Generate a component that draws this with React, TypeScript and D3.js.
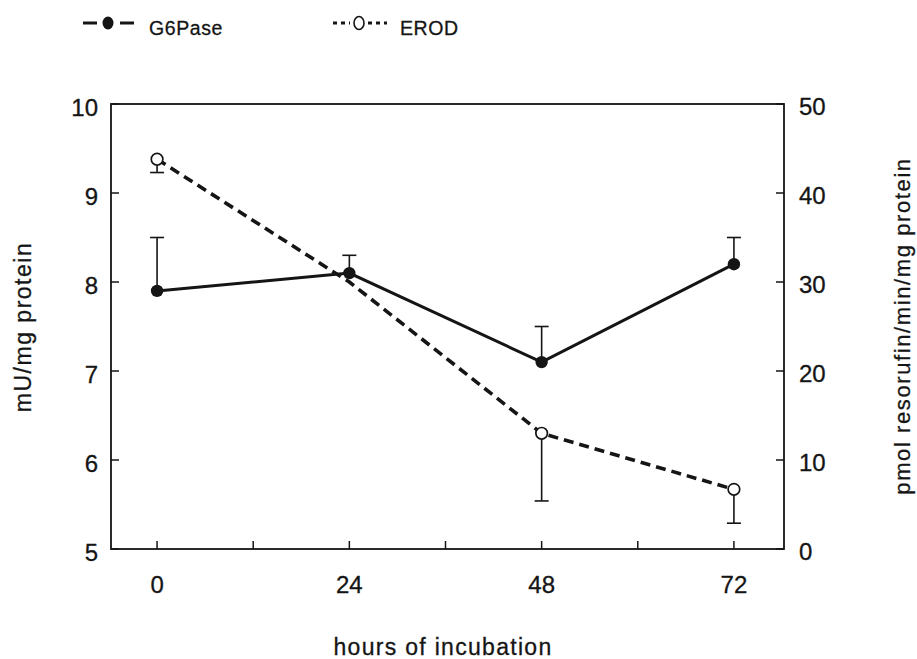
import React from 'react';
import * as d3 from 'd3';

// hours of incubation
const hours = [0, 24, 48, 72];
const xTicks = [0, 12, 24, 36, 48, 60, 72];
const xTickLabels = ['0', '24', '48', '72'];

// G6Pase, mU/mg protein (left axis), error bar goes up
const g6pase = [7.9, 8.1, 7.1, 8.2];
const g6paseErr = [0.6, 0.2, 0.4, 0.3];

// EROD, pmol resorufin/min/mg protein (right axis), error bar goes down
const erod = [43.8, 30.0, 13.0, 6.7];
const erodErr = [1.5, 0, 7.6, 3.8];

const leftTicks = [5, 6, 7, 8, 9, 10];
const rightTicks = [0, 10, 20, 30, 40, 50];

const W = 917;
const H = 659;
const margin = { top: 104, right: 133, bottom: 110, left: 111 };
const font = 'Liberation Sans, Arial, sans-serif';
const ink = '#151515';

const App: React.FC = () => {
  const x = d3.scaleLinear().domain([-5.75, 78.25]).range([margin.left, W - margin.right]);
  const yL = d3.scaleLinear().domain([5, 10]).range([H - margin.bottom, margin.top]);
  const yR = d3.scaleLinear().domain([0, 50]).range([H - margin.bottom, margin.top]);

  const x0 = margin.left;
  const x1 = W - margin.right;
  const y0 = H - margin.bottom;
  const y1 = margin.top;

  const lineL = d3.line<number>().x((_, i) => x(hours[i])).y(d => yL(d));
  const lineR = d3.line<number>().x((_, i) => x(hours[i])).y(d => yR(d));

  const tk = 8;
  const capW = 7;
  const txt = { fontFamily: font, fill: ink, stroke: ink, strokeWidth: 0.3 };

  return (
    <svg width={W} height={H} style={{ position: 'absolute', left: 0, top: 0, background: '#fff' }}>
      {/* frame */}
      <rect x={x0} y={y1} width={x1 - x0} height={y0 - y1} fill="none" stroke={ink} strokeWidth={1.8} />

      {/* bottom ticks */}
      {xTicks.map(t => (
        <line key={'xt' + t} x1={x(t)} x2={x(t)} y1={y0} y2={y0 - tk} stroke={ink} strokeWidth={1.5} />
      ))}
      {hours.map((h, i) => (
        <text key={'xl' + h} x={x(h)} y={y0 + 44} textAnchor="middle" fontSize={24} {...txt}>
          {xTickLabels[i]}
        </text>
      ))}

      {/* left ticks */}
      {leftTicks.map(t => (
        <g key={'lt' + t}>
          <line x1={x0} x2={x0 + tk} y1={yL(t)} y2={yL(t)} stroke={ink} strokeWidth={1.5} />
          <text x={x0 - 13} y={yL(t) + 11.5} textAnchor="end" fontSize={24} {...txt}>{t}</text>
        </g>
      ))}

      {/* right ticks */}
      {rightTicks.map(t => (
        <g key={'rt' + t}>
          <line x1={x1} x2={x1 - tk} y1={yR(t)} y2={yR(t)} stroke={ink} strokeWidth={1.5} />
          <text x={x1 + 15} y={yR(t) + 11} textAnchor="start" fontSize={24} {...txt}>{t}</text>
        </g>
      ))}

      {/* axis titles */}
      <text transform={`translate(31,327) rotate(-90)`} textAnchor="middle" fontSize={23} letterSpacing={1.5} {...txt}>
        mU/mg protein
      </text>
      <text transform={`translate(910,326) rotate(-90)`} textAnchor="middle" fontSize={22} letterSpacing={1.6} {...txt}>
        pmol resorufin/min/mg protein
      </text>
      <text x={443} y={655} textAnchor="middle" fontSize={23} letterSpacing={1.3} {...txt}>
        hours of incubation
      </text>

      {/* EROD error bars (down) */}
      {erod.map((v, i) => erodErr[i] > 0 && (
        <g key={'ee' + i} stroke={ink} strokeWidth={1.6}>
          <line x1={x(hours[i])} x2={x(hours[i])} y1={yR(v)} y2={yR(v - erodErr[i])} />
          <line x1={x(hours[i]) - capW} x2={x(hours[i]) + capW} y1={yR(v - erodErr[i])} y2={yR(v - erodErr[i])} />
        </g>
      ))}
      {/* G6Pase error bars (up) */}
      {g6pase.map((v, i) => (
        <g key={'ge' + i} stroke={ink} strokeWidth={1.6}>
          <line x1={x(hours[i])} x2={x(hours[i])} y1={yL(v)} y2={yL(v + g6paseErr[i])} />
          <line x1={x(hours[i]) - capW} x2={x(hours[i]) + capW} y1={yL(v + g6paseErr[i])} y2={yL(v + g6paseErr[i])} />
        </g>
      ))}

      {/* EROD line */}
      <path d={lineR(erod) || ''} fill="none" stroke={ink} strokeWidth={3.6} strokeDasharray="10,6" />
      {/* G6Pase line */}
      <path d={lineL(g6pase) || ''} fill="none" stroke={ink} strokeWidth={3} />

      {/* markers */}
      {erod.map((v, i) => i !== 1 && (
        <circle key={'em' + i} cx={x(hours[i])} cy={yR(v)} r={5.8} fill="#fff" stroke={ink} strokeWidth={1.7} />
      ))}
      {g6pase.map((v, i) => (
        <circle key={'gm' + i} cx={x(hours[i])} cy={yL(v)} r={6.2} fill={ink} />
      ))}

      {/* legend */}
      <g>
        <line x1={83} x2={97} y1={23} y2={23} stroke={ink} strokeWidth={3} />
        <line x1={120} x2={134} y1={23} y2={23} stroke={ink} strokeWidth={3} />
        <ellipse cx={108} cy={23} rx={5.5} ry={6.5} fill={ink} />
        <text x={149} y={35} fontSize={19.5} letterSpacing={0.6} {...txt}>G6Pase</text>

        <line x1={333} x2={350} y1={23} y2={23} stroke={ink} strokeWidth={3} strokeDasharray="4,4" />
        <line x1={368} x2={387} y1={23} y2={23} stroke={ink} strokeWidth={3} strokeDasharray="4,4" />
        <ellipse cx={359} cy={23} rx={5} ry={6.5} fill="#fff" stroke={ink} strokeWidth={1.6} />
        <text x={400} y={35} fontSize={19.5} letterSpacing={0.6} {...txt}>EROD</text>
      </g>
    </svg>
  );
};

export default App;
